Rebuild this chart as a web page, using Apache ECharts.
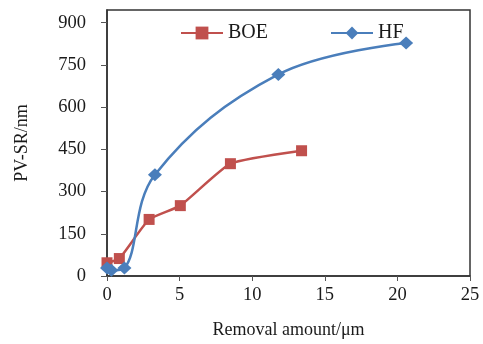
<!DOCTYPE html>
<html>
<head>
<meta charset="utf-8">
<script src="https://cdn.jsdelivr.net/npm/echarts@6/dist/echarts.min.js"></script>
<style>
html,body{margin:0;padding:0;background:#fff;}
#chart{width:483px;height:344px;}
</style>
</head>
<body>
<div id="chart"></div>
<script>
const boeX = [0, 0.85, 2.9, 5.05, 8.5, 13.4];
const boeY = [47, 62, 201, 250, 399, 445];
const hfX = [0, 0.3, 1.2, 3.3, 11.8, 20.6];
const hfY = [28, 20, 28, 360, 716, 828];
const xTicks = [0, 5, 10, 15, 20, 25];
const yTicks = [0, 150, 300, 450, 600, 750, 900];
const seriesNames = ['BOE', 'HF'];

const font = 'Liberation Serif';
const txt = '#1a1a1a';
const pair = (xs, ys) => xs.map((x, i) => [x, ys[i]]);

const chart = echarts.init(document.getElementById('chart'));
chart.setOption({
  animation: false,
  backgroundColor: '#fff',
  grid: { left: 107, right: 13, top: 10, bottom: 67, show: true, borderColor: '#333', borderWidth: 1.5 },
  legend: {
    left: 175, top: 18, itemWidth: 42, itemHeight: 16, itemGap: 62,
    data: seriesNames,
    textStyle: { fontFamily: font, fontSize: 20, color: txt }
  },
  xAxis: {
    type: 'value', min: 0, max: 25,
    name: 'Removal amount/μm', nameLocation: 'middle', nameGap: 45,
    nameTextStyle: { fontFamily: font, fontSize: 18, color: txt },
    axisLine: { show: true, lineStyle: { color: '#333', width: 1.5 } },
    axisTick: { show: true, length: 5, customValues: xTicks, lineStyle: { color: '#555' } },
    axisLabel: { customValues: xTicks, margin: 10, fontFamily: font, fontSize: 18.5, color: txt },
    splitLine: { show: false }
  },
  yAxis: {
    type: 'value', min: 0, max: 945,
    name: 'PV-SR/nm', nameLocation: 'middle', nameGap: 76,
    nameTextStyle: { fontFamily: font, fontSize: 18, color: txt },
    axisLine: { show: true, lineStyle: { color: '#333', width: 1.5 } },
    axisTick: { show: true, length: 6, customValues: yTicks, lineStyle: { color: '#555' } },
    axisLabel: { customValues: yTicks, margin: 21, fontFamily: font, fontSize: 18.5, color: txt },
    splitLine: { show: false }
  },
  series: [
    {
      name: seriesNames[0], type: 'line', smooth: 0.15,
      data: pair(boeX, boeY),
      symbol: 'rect', symbolSize: 11,
      lineStyle: { color: '#C0504D', width: 2.5 },
      itemStyle: { color: '#C0504D' }
    },
    {
      name: seriesNames[1], type: 'line', smooth: 0.38,
      data: pair(hfX, hfY),
      symbol: 'diamond', symbolSize: [14, 13],
      lineStyle: { color: '#4A7EBB', width: 2.5 },
      itemStyle: { color: '#4A7EBB' }
    }
  ]
});
</script>
</body>
</html>
